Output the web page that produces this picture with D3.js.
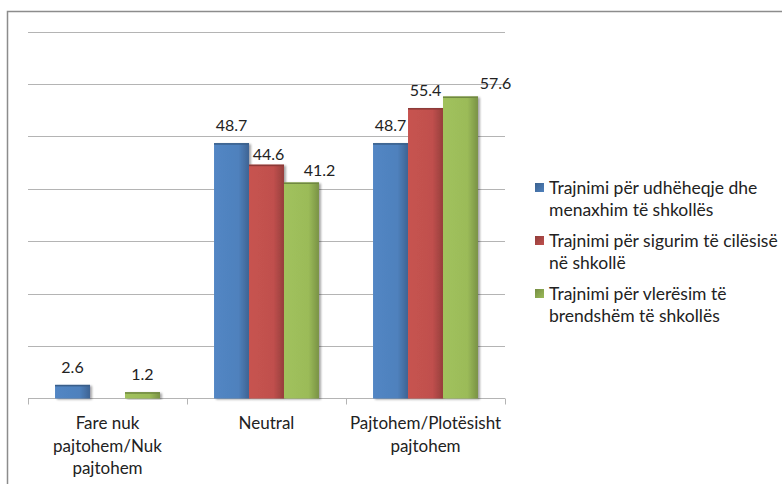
<!DOCTYPE html>
<html>
<head>
<meta charset="utf-8">
<script src="https://cdn.jsdelivr.net/npm/d3@7"></script>
<style>
  body { margin: 0; background: #fff; }
  text { font-family: Lato, "Open Sans", sans-serif; fill: #222; }
  .grid line { stroke: #b4b4b4; stroke-width: 1; }
</style>
</head>
<body>
<div id="chart"></div>
<script>
var width = 782, height = 484;

var categories = ["Fare nuk pajtohem/Nuk pajtohem", "Neutral", "Pajtohem/Plotësisht pajtohem"];
var seriesNames = [
  "Trajnimi për udhëheqje dhe menaxhim të shkollës",
  "Trajnimi për sigurim të cilësisë në shkollë",
  "Trajnimi për vlerësim të brendshëm të shkollës"
];
var udheheqje = [2.6, 48.7, 48.7];
var cilesia = [null, 44.6, 55.4];
var vleresim = [1.2, 41.2, 57.6];
var yTicks = [0, 10, 20, 30, 40, 50, 60, 70];
var colors = ["#4f81bd", "#c0504d", "#9bbb59"];

var seriesValues = [udheheqje, cilesia, vleresim];

// label nudges where Excel moved labels around (series-category)
var nudge = { "1-1": [2, 7], "2-1": [18, 6], "2-2": [35, 4] };

var svg = d3.select("#chart").append("svg")
  .attr("width", width)
  .attr("height", height);

var defs = svg.append("defs");
colors.forEach(function(c, i) {
  var g = defs.append("linearGradient").attr("id", "bar" + i)
    .attr("x1", 0).attr("x2", 1).attr("y1", 0).attr("y2", 0);
  g.append("stop").attr("offset", 0).attr("stop-color", d3.color(c).brighter(0.1));
  g.append("stop").attr("offset", 0.7).attr("stop-color", c);
  g.append("stop").attr("offset", 1).attr("stop-color", d3.color(c).darker(0.7));
  var l = defs.append("linearGradient").attr("id", "leg" + i)
    .attr("x1", 0).attr("x2", 1).attr("y1", 0).attr("y2", 1);
  l.append("stop").attr("offset", 0).attr("stop-color", d3.color(c).darker(0.8));
  l.append("stop").attr("offset", 1).attr("stop-color", c);
});
var shadow = defs.append("filter").attr("id", "shadow")
  .attr("x", "-10%").attr("y", "-10%").attr("width", "130%").attr("height", "130%");
shadow.append("feDropShadow").attr("dx", 2).attr("dy", 1)
  .attr("stdDeviation", 1.2).attr("flood-opacity", 0.35);

// outer frame
svg.append("rect")
  .attr("x", 7.5).attr("y", 11.5)
  .attr("width", width + 10).attr("height", height + 10)
  .attr("fill", "none").attr("stroke", "#8c8c8c").attr("stroke-width", 1.5);

var x = d3.scaleBand().domain(categories).range([28, 505]);
var bw = x.bandwidth();
var x1 = d3.scaleBand().domain(d3.range(seriesNames.length))
  .range([bw * 0.17, bw * 0.83]);
var y = d3.scaleLinear().domain([0, 70]).range([398.5, 31.5]);

svg.append("g").attr("class", "grid")
  .selectAll("line")
  .data(yTicks.slice(1))
  .enter().append("line")
    .attr("x1", 28).attr("x2", 505)
    .attr("y1", function(d) { return Math.round(y(d)) + 0.5; })
    .attr("y2", function(d) { return Math.round(y(d)) + 0.5; });

// category axis
var xAxis = svg.append("g")
  .attr("transform", "translate(0," + y(0) + ")");
xAxis.append("line")
  .attr("x1", 28).attr("x2", 505)
  .attr("stroke", "#b4b4b4");
xAxis.selectAll(".tick")
  .data(categories.map(function(c) { return x(c); }).concat([505]))
  .enter().append("line")
    .attr("x1", function(d) { return Math.round(d) + 0.5; })
    .attr("x2", function(d) { return Math.round(d) + 0.5; })
    .attr("y1", 0).attr("y2", 6)
    .attr("stroke", "#b4b4b4");

function wrap(textSel, maxWidth, lineHeight) {
  textSel.each(function() {
    var t = d3.select(this);
    var words = t.text().split(" ");
    var xPos = t.attr("x");
    t.text(null);
    var line = [];
    var tspan = t.append("tspan").attr("x", xPos).attr("dy", 0);
    words.forEach(function(w) {
      line.push(w);
      tspan.text(line.join(" "));
      if (tspan.node().getComputedTextLength() > maxWidth && line.length > 1) {
        line.pop();
        tspan.text(line.join(" "));
        line = [w];
        tspan = t.append("tspan").attr("x", xPos).attr("dy", lineHeight).text(w);
      }
    });
  });
}

xAxis.selectAll(".cat")
  .data(categories)
  .enter().append("text")
    .attr("class", "cat")
    .attr("x", function(d) { return x(d) + bw / 2; })
    .attr("y", 30.5)
    .attr("text-anchor", "middle")
    .style("font-size", "17px")
    .text(function(d) { return d; })
    .call(wrap, bw, 22.5);

// bars
seriesValues.forEach(function(vals, si) {
  var g = svg.append("g");
  var pts = categories.map(function(c, ci) { return { c: c, ci: ci, v: vals[ci] }; })
    .filter(function(d) { return d.v != null; });

  g.selectAll("rect")
    .data(pts)
    .enter().append("rect")
      .attr("x", function(d) { return x(d.c) + x1(si); })
      .attr("y", function(d) { return y(d.v); })
      .attr("width", x1.bandwidth())
      .attr("height", function(d) { return y(0) - y(d.v); })
      .attr("fill", "url(#bar" + si + ")")
      .attr("filter", "url(#shadow)");

  g.selectAll(".cap")
    .data(pts)
    .enter().append("rect")
      .attr("x", function(d) { return x(d.c) + x1(si); })
      .attr("y", function(d) { return y(d.v); })
      .attr("width", x1.bandwidth())
      .attr("height", 1.5)
      .attr("fill", d3.color(colors[si]).darker(0.9));

  g.selectAll("text")
    .data(pts)
    .enter().append("text")
      .attr("x", function(d) {
        var n = nudge[si + "-" + d.ci];
        return x(d.c) + x1(si) + x1.bandwidth() / 2 + (n ? n[0] : 0);
      })
      .attr("y", function(d) {
        var n = nudge[si + "-" + d.ci];
        return y(d.v) - 12 + (n ? n[1] : 0);
      })
      .attr("text-anchor", "middle")
      .style("font-size", "16px")
      .text(function(d) { return d.v.toFixed(1); });
});

// legend
var legend = svg.append("g")
  .selectAll("g")
  .data(seriesNames)
  .enter().append("g")
    .attr("transform", function(d, i) { return "translate(535," + (183 + i * 53) + ")"; });

legend.append("rect")
  .attr("width", 9).attr("height", 9)
  .attr("fill", function(d, i) { return "url(#leg" + i + ")"; });

legend.append("text")
  .attr("x", 14)
  .attr("y", 11)
  .style("font-size", "17.5px")
  .text(function(d) { return d; })
  .call(wrap, 234, 21.5);
</script>
</body>
</html>
